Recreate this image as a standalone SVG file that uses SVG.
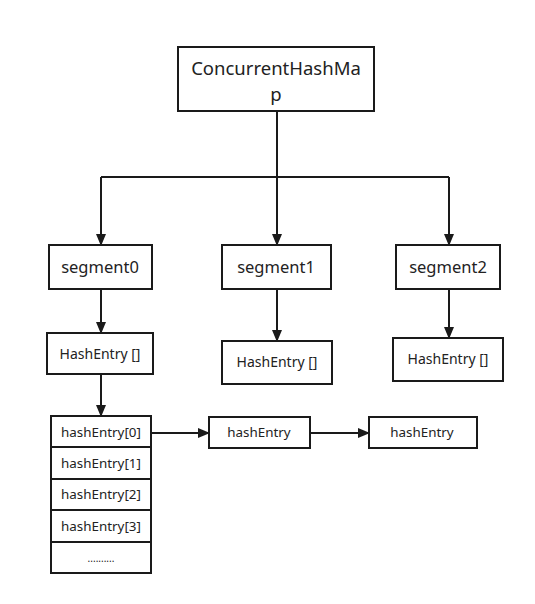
<svg xmlns="http://www.w3.org/2000/svg" width="535" height="604" viewBox="0 0 535 604">
<style>
.b{fill:#fff;stroke:#1a1a1a;stroke-width:2}
.t{font-family:"Noto Sans","Open Sans",sans-serif;fill:#222;text-anchor:middle}
.c{fill:none;stroke:#1a1a1a;stroke-width:2}
</style>
<defs>
<marker id="a" markerWidth="12" markerHeight="12" viewBox="0 0 12 12" refX="11" refY="6" orient="auto" markerUnits="userSpaceOnUse">
<path d="M0,1 L12,6 L0,11 Z" fill="#1a1a1a"/>
</marker>
</defs>
<rect width="535" height="604" fill="#fff"/>
<g id="connectors">
<path class="c" d="M277,111 V177"/>
<path class="c" d="M101,177 H449"/>
<path class="c" d="M101,177 V245" marker-end="url(#a)"/>
<path class="c" d="M277,177 V245" marker-end="url(#a)"/>
<path class="c" d="M449,177 V245" marker-end="url(#a)"/>
<path class="c" d="M101,289 V333" marker-end="url(#a)"/>
<path class="c" d="M277,289 V341" marker-end="url(#a)"/>
<path class="c" d="M449,289 V338" marker-end="url(#a)"/>
<path class="c" d="M101,374 V416" marker-end="url(#a)"/>
<path class="c" d="M152,433 H209" marker-end="url(#a)"/>
<path class="c" d="M310,433 H369" marker-end="url(#a)"/>
</g>
<g id="chm">
<rect class="b" x="178" y="47" width="196" height="64"/>
<text class="t" x="276" y="75" font-size="18.5">ConcurrentHashMa</text>
<text class="t" x="276" y="101" font-size="18.5">p</text>
</g>
<g id="segment0"><rect class="b" x="49" y="245" width="103" height="44"/><text class="t" x="100" y="273" font-size="16.5">segment0</text></g>
<g id="segment1"><rect class="b" x="222" y="245" width="109" height="44"/><text class="t" x="276" y="273" font-size="16.5">segment1</text></g>
<g id="segment2"><rect class="b" x="396" y="245" width="104" height="44"/><text class="t" x="448" y="273" font-size="16.5">segment2</text></g>
<g id="hashEntryArr0"><rect class="b" x="47" y="333" width="106" height="41"/><text class="t" x="100" y="359" font-size="14">HashEntry []</text></g>
<g id="hashEntryArr1"><rect class="b" x="222" y="341" width="110" height="43"/><text class="t" x="277" y="367" font-size="14">HashEntry []</text></g>
<g id="hashEntryArr2"><rect class="b" x="393" y="338" width="110" height="43"/><text class="t" x="448" y="364" font-size="14">HashEntry []</text></g>
<g id="array">
<rect class="b" x="51" y="416" width="100" height="31"/><text class="t" x="101" y="437" font-size="13.4">hashEntry[0]</text>
<rect class="b" x="51" y="447" width="100" height="32"/><text class="t" x="101" y="468" font-size="13.4">hashEntry[1]</text>
<rect class="b" x="51" y="479" width="100" height="31"/><text class="t" x="101" y="499" font-size="13.4">hashEntry[2]</text>
<rect class="b" x="51" y="510" width="100" height="32"/><text class="t" x="101" y="531" font-size="13.4">hashEntry[3]</text>
<rect class="b" x="51" y="542" width="100" height="31"/><text class="t" x="101" y="562" font-size="10">..........</text>
</g>
<g id="entry1"><rect class="b" x="209" y="417" width="101" height="31"/><text class="t" x="259" y="437" font-size="13.4">hashEntry</text></g>
<g id="entry2"><rect class="b" x="369" y="417" width="108" height="31"/><text class="t" x="422" y="437" font-size="13.4">hashEntry</text></g>
</svg>
